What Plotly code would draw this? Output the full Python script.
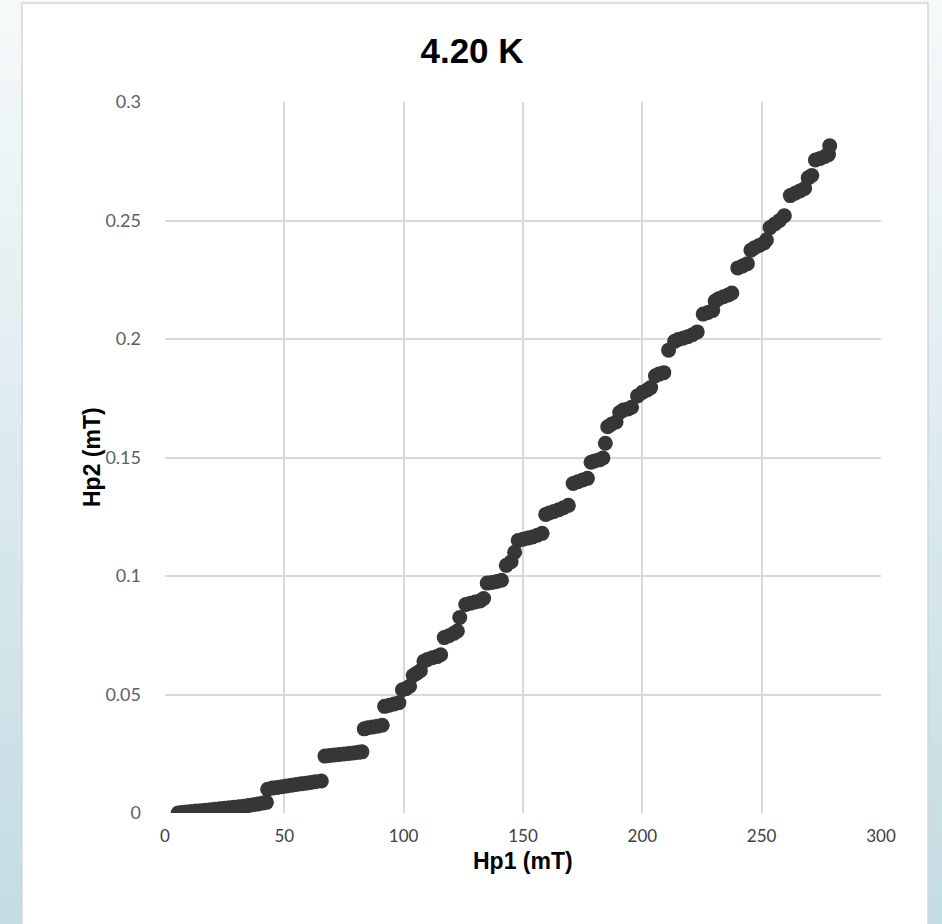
import plotly.graph_objects as go

# ---- data ----
hp1 = [
    5.5, 7, 9, 11, 13, 15, 17, 19, 21, 23, 25, 27, 29, 31, 33, 35, 37, 39, 41, 42.5,
    43, 45, 47, 49, 51, 53, 55, 57, 59, 61, 63, 65.5,
    67, 69, 71, 73, 75, 77, 79, 81, 82.5,
    83.5, 85, 87, 89, 91,
    92, 94, 96, 98,
    99.5, 101, 102.5,
    104, 105.5, 107,
    108.5, 110, 112, 114, 115.5,
    117, 119, 121, 122.5,
    123.5,
    126, 128, 130, 132, 133.5,
    135, 137, 139, 141,
    143, 145,
    146.5,
    148, 150, 152, 154, 156, 158,
    159.5, 161, 163, 165, 167, 169,
    171, 173, 175, 177,
    178.5, 180, 182, 183.5,
    184.5,
    185.5, 187, 189,
    190.5, 192, 194, 195.5,
    198, 200, 202, 203.5,
    205.5, 207, 209,
    211,
    213.5, 215, 217, 219, 221, 223,
    225.5, 227.5, 229.5,
    230.5, 232, 234, 236, 237.5,
    240, 242, 244,
    245.5, 247, 249, 251, 252,
    253.5, 255.5, 257.5, 259.5,
    262, 264, 266, 268,
    269.5, 271,
    272.5, 274.5, 276.5, 278,
    278.5,
]
hp2 = [
    0.0000, 0.0002, 0.0004, 0.0006, 0.0008, 0.0010, 0.0012, 0.0014, 0.0016, 0.0018,
    0.0020, 0.0022, 0.0024, 0.0026, 0.0029, 0.0032, 0.0035, 0.0038, 0.0042, 0.0045,
    0.0100, 0.0105, 0.0108, 0.0111, 0.0114, 0.0117, 0.0120, 0.0123, 0.0126, 0.0129, 0.0132, 0.0135,
    0.0240, 0.0243, 0.0245, 0.0247, 0.0249, 0.0251, 0.0253, 0.0256, 0.0258,
    0.0355, 0.0360, 0.0363, 0.0366, 0.0370,
    0.0450, 0.0455, 0.0460, 0.0465,
    0.0520, 0.0525, 0.0535,
    0.0580, 0.0590, 0.0600,
    0.0640, 0.0648, 0.0655, 0.0660, 0.0668,
    0.0740, 0.0748, 0.0758, 0.0768,
    0.0825,
    0.0880, 0.0885, 0.0890, 0.0895, 0.0905,
    0.0970, 0.0973, 0.0977, 0.0982,
    0.1045, 0.1060,
    0.1100,
    0.1150, 0.1155, 0.1160, 0.1165, 0.1172, 0.1180,
    0.1260, 0.1266, 0.1272, 0.1280, 0.1288, 0.1298,
    0.1390, 0.1398, 0.1405, 0.1412,
    0.1480, 0.1485, 0.1490, 0.1498,
    0.1560,
    0.1630, 0.1640, 0.1650,
    0.1690, 0.1700, 0.1705, 0.1712,
    0.1760, 0.1775, 0.1785, 0.1795,
    0.1845, 0.1852, 0.1858,
    0.1953,
    0.1990, 0.1998, 0.2003, 0.2010, 0.2018, 0.2030,
    0.2105, 0.2112, 0.2120,
    0.2160, 0.2170, 0.2178, 0.2186, 0.2194,
    0.2300, 0.2308, 0.2318,
    0.2375, 0.2385, 0.2395, 0.2405, 0.2418,
    0.2470, 0.2485, 0.2500, 0.2520,
    0.2605, 0.2615, 0.2625, 0.2635,
    0.2680, 0.2690,
    0.2755, 0.2762, 0.2770, 0.2778,
    0.2815,
]
x_ticks = [0, 50, 100, 150, 200, 250, 300]
y_ticks = [0, 0.05, 0.1, 0.15, 0.2, 0.25, 0.3]
y_tick_text = ["0", "0.05", "0.1", "0.15", "0.2", "0.25", "0.3"]

W, H = 942, 924
L, R, T, B = 165, 61, 102, 111
PW, PH = W - L - R, H - T - B


def px_x(p):
    return (p - L) / PW


def px_y(p):
    return (H - B - p) / PH


# background gradient bands
shapes = []
n = 60
top = (245, 249, 250)
bot = (195, 220, 227)
for i in range(n):
    f = i / (n - 1)
    c = tuple(round(top[k] + (bot[k] - top[k]) * f) for k in range(3))
    y0 = i * H / n
    y1 = (i + 1) * H / n + 1
    shapes.append(dict(type="rect", xref="paper", yref="paper", layer="below",
                       x0=px_x(0), x1=px_x(W), y0=px_y(y1), y1=px_y(y0),
                       line=dict(width=0), fillcolor="rgb(%d,%d,%d)" % c))
# white card
shapes.append(dict(type="rect", xref="paper", yref="paper", layer="below",
                   x0=px_x(22), x1=px_x(928), y0=px_y(H + 5), y1=px_y(3),
                   line=dict(width=1.5, color="#d4d6d7"), fillcolor="white"))

axis_title_font = dict(family="Liberation Sans, Arial", size=23, color="#000000")

fig = go.Figure()
fig.add_trace(go.Scatter(
    x=hp1, y=hp2, mode="markers",
    marker=dict(size=15, color="#363636", line=dict(width=0)),
    showlegend=False, hoverinfo="skip",
))

fig.update_layout(
    width=W, height=H,
    margin=dict(l=L, r=R, t=T, b=B),
    paper_bgcolor="#dbe9ed",
    plot_bgcolor="white",
    shapes=shapes,
    title=dict(text="<b>4.20 K</b>", x=472 / W, xref="container", xanchor="center",
               y=1 - 51 / H, yref="container", yanchor="middle",
               font=dict(family="Liberation Sans, Arial", size=35, color="#000000")),
    xaxis=dict(range=[0, 300], tickvals=x_ticks, ticktext=[str(v) for v in x_ticks],
               showgrid=True, gridcolor="#d9d9d9", gridwidth=1.5,
               zeroline=False, showline=False,
               ticks="", ticklabelstandoff=11,
               tickfont=dict(family="Lato, Open Sans, sans-serif", size=17, color="#404040")),
    yaxis=dict(range=[0, 0.3], tickvals=y_ticks, ticktext=y_tick_text,
               showgrid=True, gridcolor="#d9d9d9", gridwidth=1.5,
               zeroline=False, showline=False,
               ticks="", ticklabelstandoff=23,
               tickfont=dict(family="Lato, Open Sans, sans-serif", size=18, color="#606060")),
    annotations=[
        dict(text="<b>Hp1 (mT)</b>", xref="paper", yref="paper",
             x=px_x(523), y=px_y(861), xanchor="center", yanchor="middle",
             showarrow=False, font=axis_title_font),
        dict(text="<b>Hp2 (mT)</b>", xref="paper", yref="paper",
             x=px_x(92), y=px_y(457), xanchor="center", yanchor="middle",
             textangle=-90, showarrow=False, font=axis_title_font),
    ],
)

fig.write_html("out.html")
